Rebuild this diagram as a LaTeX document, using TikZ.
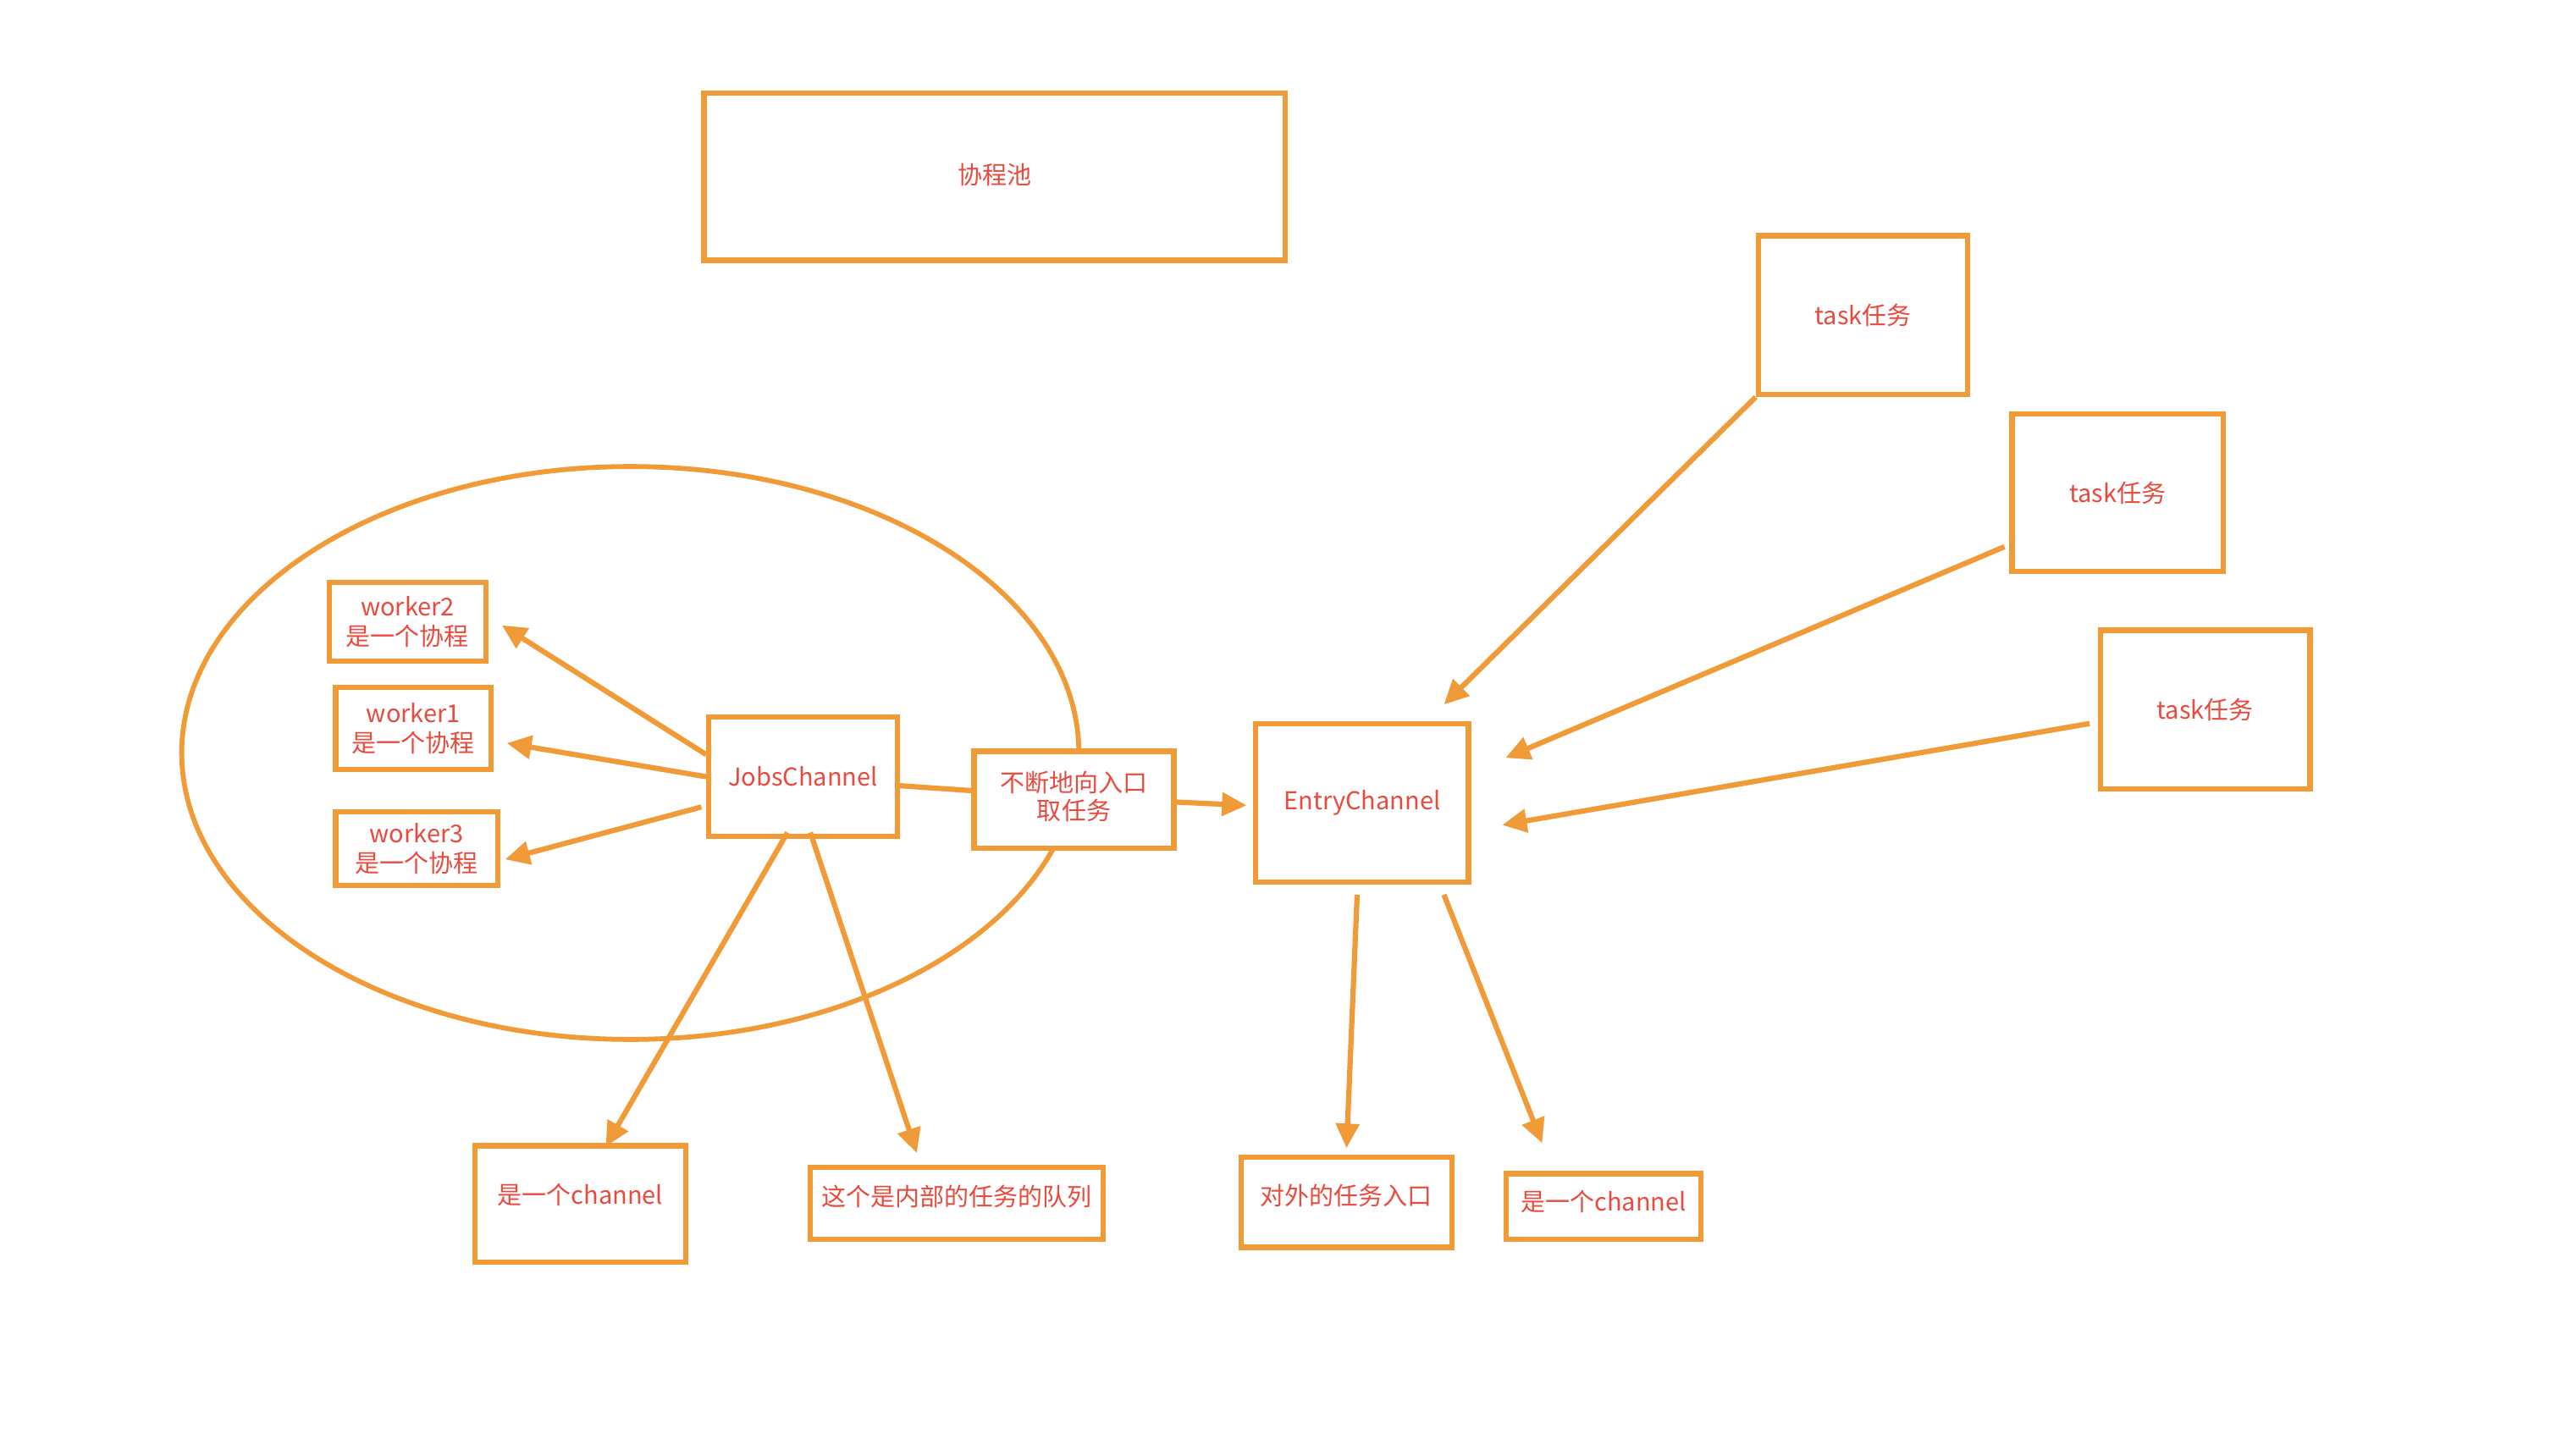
\documentclass[tikz,border=0pt]{standalone}
\usepackage{fontspec}
\setmainfont{Noto Sans CJK SC}
\usetikzlibrary{arrows.meta}
\definecolor{orng}{RGB}{241,154,56}
\definecolor{txtred}{RGB}{232,74,62}
\begin{document}
\begin{tikzpicture}[x=1pt,y=-1pt,
  box/.style={draw=orng, line width=3.2pt, fill=white, inner sep=0pt, text=txtred,
    font=\fontsize{15}{18}\selectfont, align=center},
  conn/.style={draw=orng, line width=3.2pt},
  arr/.style={conn, -{Triangle[length=15pt,width=14pt]}}]
\useasboundingbox (0,0) rectangle (1568,889);
\fill[white] (0,0) rectangle (1568,889);
% ellipse (coroutine pool area)
\draw[orng, line width=3pt] (385,460) ellipse [x radius=274pt, y radius=175pt];
% boxes
\node[box, minimum width=355pt, minimum height=102pt] (pool) at (607.5,108) {\raisebox{4pt}{协程池}};
\node[box, minimum width=128pt, minimum height=97pt] (t1) at (1138,192.5) {task任务};
\node[box, minimum width=129pt, minimum height=96pt] (t2) at (1293.5,301) {task任务};
\node[box, minimum width=128pt, minimum height=97pt] (t3) at (1347,433.5) {task任务};
\node[box, minimum width=96pt, minimum height=48pt] (w2) at (249,380) {worker2\\[0pt]是一个协程};
\node[box, minimum width=95pt, minimum height=50pt] (w1) at (252.5,445) {worker1\\[0pt]是一个协程};
\node[box, minimum width=99pt, minimum height=45pt] (w3) at (254.5,518.5) {worker3\\[0pt]是一个协程};
\node[box, minimum width=115pt, minimum height=73pt] (jobs) at (490.5,474.5) {JobsChannel};
\node[box, minimum width=122pt, minimum height=59pt] (mid) at (656,488.5) {\raisebox{3pt}{\begin{tabular}{@{}c@{}}不断地向入口\\[-1pt]取任务\end{tabular}}};
\node[box, minimum width=130pt, minimum height=97pt] (entry) at (832,490.5) {\raisebox{-2pt}{EntryChannel}};
\node[box, minimum width=129pt, minimum height=71pt] (ch1) at (354.5,735.5) {\raisebox{12pt}{是一个channel}};
\node[box, minimum width=179pt, minimum height=44pt] (queue) at (584.5,735) {\raisebox{9pt}{这个是内部的任务的队列}};
\node[box, minimum width=129pt, minimum height=55pt] (ext) at (822.5,734.5) {\raisebox{9pt}{对外的任务入口}};
\node[box, minimum width=119pt, minimum height=40pt] (ch2) at (979.5,737) {\raisebox{7pt}{是一个channel}};
% connectors
\draw[arr] ([yshift=13.5pt]jobs.west) -- ([xshift=8pt,yshift=-2pt]w2.east);
\draw[arr] (jobs.west) -- ([xshift=8pt,yshift=-9pt]w1.east);
\draw[arr] ([xshift=-3pt,yshift=-18.5pt]jobs.west) -- ([xshift=3pt,yshift=-6.5pt]w3.east);
\draw[conn] ([yshift=-5.5pt]jobs.east) -- ([yshift=5.5pt]mid.west);
\draw[arr] ([yshift=-1.5pt]mid.east) -- ([xshift=-4pt,yshift=-1.5pt]entry.west);
\draw[arr] ([xshift=-9.5pt,yshift=4pt]jobs.south) -- ([xshift=15.5pt,yshift=-2pt]ch1.north);
\draw[arr] ([xshift=4.5pt,yshift=4pt]jobs.south) -- ([xshift=-24.5pt,yshift=7pt]queue.north);
\draw[arr] ([xshift=-3pt,yshift=-6pt]entry.south) -- ([yshift=4pt]ext.north);
\draw[arr] ([xshift=50pt,yshift=-6pt]entry.south) -- ([xshift=-37.5pt,yshift=17pt]ch2.north);
\draw[arr] (t1.south west) -- ([xshift=50pt,yshift=10pt]entry.north);
\draw[arr] ([xshift=-3pt,yshift=-33pt]t2.west) -- ([xshift=21pt,yshift=27.5pt]entry.east);
\draw[arr] ([xshift=-5pt,yshift=-8.5pt]t3.west) -- ([xshift=19pt,yshift=-13.5pt]entry.east);
\end{tikzpicture}
\end{document}
